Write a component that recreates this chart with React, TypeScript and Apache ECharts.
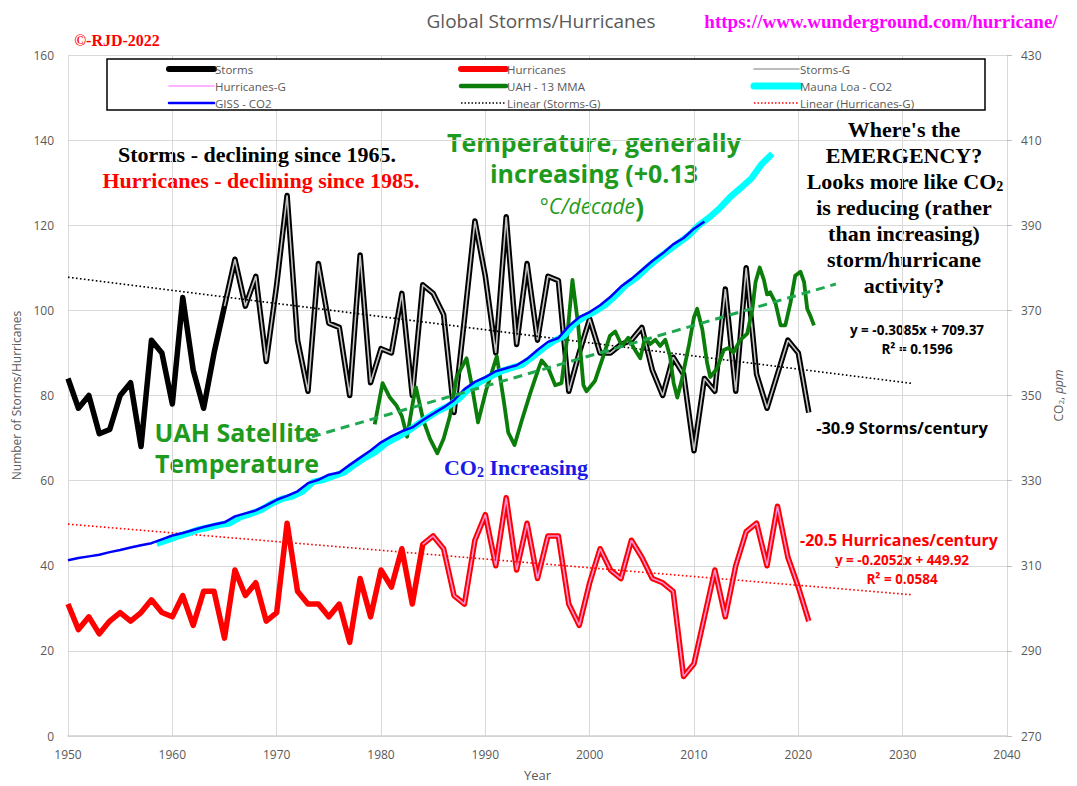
import React, { useEffect, useRef } from "react";
import * as echarts from "echarts";

// ---------- data ----------
const startYear = 1950;
const storms = [
  84, 77, 80, 71, 72, 80, 83, 68, 93, 90,
  78, 103, 86, 77, 90, 101, 112, 101, 108, 88,
  106, 127, 93, 81, 111, 97, 96, 80, 113, 83,
  91, 90, 104, 80, 106, 104, 99, 76, 98, 121,
  108, 90, 122, 92, 111, 93, 108, 107, 81, 90,
  98, 90, 90, 92, 93, 96, 86, 80, 89, 85,
  67, 84, 81, 105, 81, 110, 85, 77, 85, 93,
  90, 76,
];
const hurricanes = [
  31, 25, 28, 24, 27, 29, 27, 29, 32, 29,
  28, 33, 26, 34, 34, 23, 39, 33, 36, 27,
  29, 50, 34, 31, 31, 28, 31, 22, 37, 28,
  39, 35, 44, 31, 45, 47, 44, 33, 31, 46,
  52, 40, 56, 39, 50, 37, 47, 47, 31, 26,
  36, 44, 39, 37, 46, 42, 37, 36, 34, 14,
  17, 28, 39, 28, 40, 48, 50, 40, 54, 42,
  35, 27,
];
const stormsGStart = 1965;
const hurricanesGStart = 1984;

const gissStart = 1950;
const gissCO2 = [
  311.3, 311.8, 312.2, 312.6, 313.2, 313.7, 314.3, 314.8, 315.3, 316.2,
  317.1, 317.7, 318.4, 319.1, 319.7, 320.2, 321.6, 322.3, 323.0, 324.2,
  325.5, 326.4, 327.5, 329.4, 330.2, 331.4, 331.9, 333.7, 335.4, 337.1,
  339.0, 340.4, 341.6, 342.5, 344.2, 345.7, 347.2, 348.9, 351.5, 353.2,
  354.3, 355.7, 356.4, 357.1, 358.6, 360.7, 362.6, 363.5, 366.3, 368.4,
  369.6, 371.2, 373.2, 375.6, 377.4, 379.5, 381.6, 383.4, 385.5, 387.0,
  389.2, 390.9,
];
const maunaLoaStart = 1958;
const maunaLoaCO2 = [
  315.2, 316.0, 316.9, 317.6, 318.5, 319.0, 319.6, 320.0, 321.4, 322.2,
  323.1, 324.6, 325.7, 326.3, 327.5, 329.7, 330.2, 331.1, 332.0, 333.8,
  335.4, 336.8, 338.8, 340.1, 341.5, 343.2, 344.9, 346.4, 347.6, 349.3,
  351.7, 353.2, 354.5, 355.7, 356.5, 357.2, 359.0, 361.0, 362.7, 363.9,
  366.8, 368.5, 369.7, 371.3, 373.5, 376.0, 377.7, 380.0, 382.1, 384.0,
  385.8, 387.6, 390.1, 391.9, 394.1, 396.7, 398.8, 401.0, 404.4, 406.8,
];

const uahYears = [
  1979.4, 1980.15, 1980.85, 1981.5, 1982.0, 1982.5, 1983.1, 1983.35, 1984.05, 1984.7,
  1985.4, 1986.0, 1986.6, 1987.25, 1988.2, 1988.7, 1989.3, 1990.1, 1991.1, 1991.75,
  1992.2, 1992.8, 1993.5, 1994.3, 1995.1, 1995.4, 1996.05, 1996.7, 1997.3, 1997.8,
  1998.35, 1998.9, 1999.4, 1999.7, 2000.5, 2001.3, 2001.95, 2002.45, 2003.1, 2003.7,
  2004.35, 2004.85, 2005.3, 2005.8, 2006.3, 2006.75, 2007.25, 2007.7, 2008.05, 2008.4,
  2008.85, 2009.5, 2010.0, 2010.3, 2010.8, 2011.25, 2011.55, 2012.2, 2012.85, 2013.3,
  2013.8, 2014.45, 2015.1, 2015.6, 2015.9, 2016.3, 2016.7, 2017.0, 2017.3, 2017.8,
  2018.3, 2018.75, 2019.25, 2019.7, 2020.2, 2020.55, 2020.85, 2021.2, 2021.5,
];
const uahTemps = [
  -0.19, 0.01, -0.06, -0.1, -0.15, -0.25, -0.07, -0.01, -0.17, -0.26,
  -0.33, -0.26, -0.15, 0.04, 0.13, 0.0, -0.18, -0.02, 0.14, -0.07,
  -0.23, -0.29, -0.17, -0.04, 0.08, 0.12, 0.08, 0.0, 0.01, 0.21,
  0.51, 0.29, 0.0, -0.03, 0.02, 0.14, 0.24, 0.26, 0.19, 0.23,
  0.17, 0.13, 0.23, 0.2, 0.22, 0.19, 0.22, 0.14, 0.01, -0.06,
  0.03, 0.19, 0.33, 0.37, 0.27, 0.11, 0.04, 0.08, 0.17, 0.18,
  0.16, 0.22, 0.25, 0.37, 0.5, 0.57, 0.51, 0.44, 0.45, 0.4,
  0.29, 0.29, 0.4, 0.53, 0.55, 0.5, 0.37, 0.33, 0.29,
];

const trendYears = [1950, 2031];
const stormsTrendCoef = [-0.3085, 709.37];
const hurricanesTrendCoef = [-0.2052, 449.92];
const tempTrendYears = [1972.0, 2023.6];
const tempTrendValues = [-0.27, 0.49];

const xMin = 1950, xMax = 2040, xStep = 10;
const leftMin = 0, leftMax = 160, leftStep = 20;
const rightMin = 270, rightMax = 430, rightStep = 20;

// ---------- helpers ----------
const grey = "#595959";
const sans = '"Open Sans", "Noto Sans", sans-serif';
const serif = '"Liberation Serif", "DejaVu Serif", serif';
const green = "#1e9a1e";

function txt(text: string, x: number, y: number, size: number, color: string, opts: any = {}) {
  return {
    type: "text",
    x,
    y,
    silent: true,
    style: {
      text,
      fill: color,
      fontSize: size,
      lineHeight: Math.round(size * 1.1),
      fontFamily: opts.family || sans,
      fontWeight: opts.weight || "bold",
      fontStyle: opts.style || "normal",
      align: opts.align || "center",
      verticalAlign: "middle",
      rich: opts.rich,
    },
  };
}

function legendItem(x: number, y: number, label: string, stroke: string, width: number, dash?: number[]) {
  return [
    {
      type: "line",
      silent: true,
      shape: { x1: x, y1: y, x2: x + 45, y2: y },
      style: { stroke, lineWidth: width, lineDash: dash, lineCap: dash ? "butt" : "round" },
    },
    {
      type: "text",
      silent: true,
      x: x + 46,
      y,
      style: { text: label, fill: grey, fontSize: 11.5, fontFamily: sans, align: "left", verticalAlign: "middle" },
    },
  ];
}

const subRich = (color: string) => ({
  s: { fontSize: 14, fontWeight: "bold", fontFamily: serif, fill: color, verticalAlign: "bottom", lineHeight: 15 },
});

export default function App() {
  const ref = useRef<HTMLDivElement>(null);
  useEffect(() => {
    if (!ref.current) return;
    const chart = echarts.init(ref.current, undefined, { renderer: "svg" });

    const stormPts = storms.map((v, i) => [startYear + i, v]);
    const hurrPts = hurricanes.map((v, i) => [startYear + i, v]);
    const stormsGPts = stormPts.filter((p) => p[0] >= stormsGStart);
    const hurrGPts = hurrPts.filter((p) => p[0] >= hurricanesGStart);
    const gissPts = gissCO2.map((v, i) => [gissStart + i, v]);
    const mlPts = maunaLoaCO2.map((v, i) => [maunaLoaStart + i + 0.5, v]);
    const uahPts = uahTemps.map((v, i) => [uahYears[i], v]);
    const sTrend = trendYears.map((y) => [y, stormsTrendCoef[0] * y + stormsTrendCoef[1]]);
    const hTrend = trendYears.map((y) => [y, hurricanesTrendCoef[0] * y + hurricanesTrendCoef[1]]);

    const legendX = [169, 461, 754];
    const legendY = [69, 86, 103];

    const graphics: any[] = [
      txt("Global Storms/Hurricanes", 541, 21, 19, grey, { weight: "normal" }),
      txt("https://www.wunderground.com/hurricane/", 881, 21, 19, "#ff00ff", { family: serif }),
      txt("©-RJD-2022", 117, 40, 16, "#ff0000", { family: serif }),
      {
        type: "rect",
        silent: true,
        shape: { x: 107, y: 59, width: 878, height: 51 },
        style: { fill: "#ffffff", stroke: "#000000", lineWidth: 1.5 },
        z: 10,
      },
      ...[
        ...legendItem(legendX[0], legendY[0], "Storms", "#000000", 6),
        ...legendItem(legendX[1], legendY[0], "Hurricanes", "#ff0000", 6),
        ...legendItem(legendX[2], legendY[0], "Storms-G", "#a6a6a6", 1.5),
        ...legendItem(legendX[0], legendY[1], "Hurricanes-G", "#ff99ff", 1.5),
        ...legendItem(legendX[1], legendY[1], "UAH - 13 MMA", "#0a7d0a", 4.5),
        ...legendItem(legendX[2], legendY[1], "Mauna Loa - CO2", "#00ffff", 7),
        ...legendItem(legendX[0], legendY[2], "GISS - CO2", "#0000ff", 2.5),
        ...legendItem(legendX[1], legendY[2], "Linear (Storms-G)", "#000000", 1.5, [1.5, 2]),
        ...legendItem(legendX[2], legendY[2], "Linear (Hurricanes-G)", "#ff0000", 1.5, [1.5, 2]),
      ].map((g) => ({ ...g, z: 11 })),
      txt("Storms - declining since 1965.", 257, 154, 22, "#000000", { family: serif }),
      txt("Hurricanes - declining since 1985.", 261, 180, 22, "#ff0000", { family: serif }),
      txt("Temperature, generally", 594, 142, 25, green),
      txt("increasing (+0.13", 594, 173, 25, green),
      txt("{i|°C/decade}{p|)}", 592, 206, 21, green, {
        rich: {
          i: { fontSize: 21, fontStyle: "italic", fontWeight: "normal", fill: green, fontFamily: sans },
          p: { fontSize: 27, fontWeight: "bold", fill: green, fontFamily: sans },
        },
      }),
      txt("UAH Satellite", 237, 432, 25, green),
      txt("Temperature", 237, 463, 25, green),
      txt("CO{s|2} Increasing", 516, 467, 22, "#1a1ae6", { family: serif, rich: subRich("#1a1ae6") }),
      txt("Where's the", 904, 129, 22, "#000000", { family: serif }),
      txt("EMERGENCY?", 904, 155, 22, "#000000", { family: serif }),
      txt("Looks more like CO{s|2}", 905, 181, 22, "#000000", { family: serif, rich: subRich("#000000") }),
      txt("is reducing (rather", 904, 207, 22, "#000000", { family: serif }),
      txt("than increasing)", 904, 233, 22, "#000000", { family: serif }),
      txt("storm/hurricane", 904, 259, 22, "#000000", { family: serif }),
      txt("activity?", 904, 285, 22, "#000000", { family: serif }),
      txt("y = -0.3085x + 709.37", 917, 330, 13.5, "#000000"),
      txt("R² = 0.1596", 917, 349, 13.5, "#000000"),
      txt("-30.9 Storms/century", 902, 427, 16.5, "#000000"),
      txt("-20.5 Hurricanes/century", 899, 540, 16, "#ff0000"),
      txt("y = -0.2052x + 449.92", 902, 560, 13.5, "#ff0000"),
      txt("R² = 0.0584", 902, 579, 13.5, "#ff0000"),
    ];

    const option: any = {
      animation: false,
      backgroundColor: "#ffffff",
      grid: { left: 68, right: 70, top: 55, bottom: 49, containLabel: false },
      xAxis: {
        type: "value",
        min: xMin,
        max: xMax,
        interval: xStep,
        name: "Year",
        nameLocation: "middle",
        nameGap: 32,
        nameTextStyle: { color: grey, fontSize: 13, fontFamily: sans },
        axisLine: { show: true, lineStyle: { color: "#d0d0d0", width: 1.5 } },
        axisTick: { show: false },
        axisLabel: { color: grey, fontSize: 12, fontFamily: sans, margin: 12, formatter: (v: number) => String(v) },
        splitLine: { show: true, lineStyle: { color: "#d9d9d9", width: 1 } },
      },
      yAxis: [
        {
          type: "value",
          min: leftMin,
          max: leftMax,
          interval: leftStep,
          position: "left",
          name: "Number of Storms/Hurricanes",
          nameLocation: "middle",
          nameRotate: 90,
          nameGap: 42,
          nameTextStyle: { color: grey, fontSize: 12, fontFamily: sans },
          axisLine: { show: false },
          axisTick: { show: false },
          axisLabel: { color: grey, fontSize: 12, fontFamily: sans, margin: 14 },
          splitLine: { show: true, lineStyle: { color: "#d9d9d9", width: 1 } },
        },
        {
          type: "value",
          min: rightMin,
          max: rightMax,
          interval: rightStep,
          position: "right",
          name: "CO{s|2}, {i|ppm}",
          nameLocation: "middle",
          nameRotate: 90,
          nameGap: 44,
          nameTextStyle: {
            color: grey,
            fontSize: 12,
            fontFamily: sans,
            rich: {
              s: { fontSize: 8, color: grey, fontFamily: sans, verticalAlign: "bottom", lineHeight: 10 },
              i: { fontSize: 12, color: grey, fontFamily: sans, fontStyle: "italic" },
            },
          },
          axisLine: { show: false },
          axisTick: { show: true, length: 5, lineStyle: { color: "#bfbfbf" } },
          axisLabel: { color: grey, fontSize: 12, fontFamily: sans, margin: 14 },
          splitLine: { show: false },
        },
        {
          type: "value",
          min: -1.7,
          max: 1.6,
          show: false,
          splitLine: { show: false },
        },
      ],
      series: [
        {
          name: "Storms",
          type: "line",
          data: stormPts,
          symbol: "none",
          lineStyle: { color: "#000000", width: 5.5, join: "round" },
          z: 2,
        },
        {
          name: "Storms-G",
          type: "line",
          data: stormsGPts,
          symbol: "none",
          lineStyle: { color: "#c4c4c4", width: 1.6 },
          z: 3,
        },
        {
          name: "Hurricanes",
          type: "line",
          data: hurrPts,
          symbol: "none",
          lineStyle: { color: "#ff0000", width: 5.5, join: "round" },
          z: 2,
        },
        {
          name: "Hurricanes-G",
          type: "line",
          data: hurrGPts,
          symbol: "none",
          lineStyle: { color: "#ff8fd8", width: 1.6 },
          z: 3,
        },
        {
          name: "Linear (Storms-G)",
          type: "line",
          data: sTrend,
          symbol: "none",
          lineStyle: { color: "#000000", width: 1.6, type: [1.6, 2.4] },
          z: 4,
        },
        {
          name: "Linear (Hurricanes-G)",
          type: "line",
          data: hTrend,
          symbol: "none",
          lineStyle: { color: "#ff0000", width: 1.6, type: [1.6, 2.4] },
          z: 4,
        },
        {
          name: "UAH - 13 MMA",
          type: "line",
          yAxisIndex: 2,
          data: uahPts,
          symbol: "none",
          lineStyle: { color: "#0a7d0a", width: 3.8, join: "round" },
          z: 5,
          markLine: {
            silent: true,
            symbol: ["none", "arrow"],
            symbolSize: [0, 13],
            label: { show: false },
            lineStyle: { color: "#1fa84f", width: 3, type: [9, 6] },
            data: [
              [
                { coord: [tempTrendYears[0], tempTrendValues[0]] },
                { coord: [tempTrendYears[1], tempTrendValues[1]] },
              ],
            ],
            z: 9,
          },
        },
        {
          name: "Mauna Loa - CO2",
          type: "line",
          yAxisIndex: 1,
          data: mlPts,
          symbol: "none",
          lineStyle: { color: "#00ffff", width: 6.5 },
          z: 6,
        },
        {
          name: "GISS - CO2",
          type: "line",
          yAxisIndex: 1,
          data: gissPts,
          symbol: "none",
          lineStyle: { color: "#0000ff", width: 2.5 },
          z: 7,
        },
      ],
      graphic: graphics,
    };

    chart.setOption(option);
    return () => chart.dispose();
  }, []);

  return (
    <div
      ref={ref}
      style={{ position: "fixed", left: 0, top: 0, width: 1077, height: 786, background: "#fff" }}
    />
  );
}
